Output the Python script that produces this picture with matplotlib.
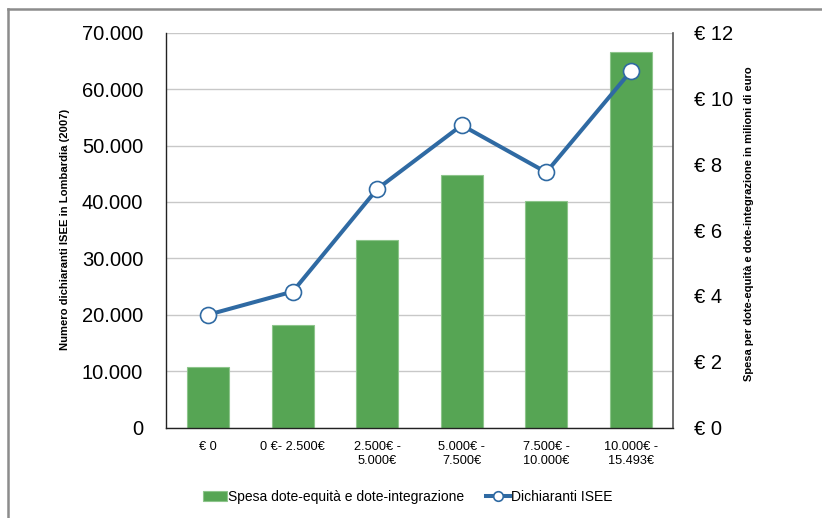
import matplotlib
matplotlib.use("Agg")
import matplotlib.pyplot as plt
from matplotlib.lines import Line2D
from matplotlib.ticker import FixedLocator, FuncFormatter

plt.rcParams['font.family'] = ['Liberation Sans', 'DejaVu Sans']

categories = ["€ 0", "0 €- 2.500€", "2.500€ -\n5.000€", "5.000€ -\n7.500€",
              "7.500€ -\n10.000€", "10.000€ -\n15.493€"]
spesa_milioni = [1.83, 3.12, 5.71, 7.66, 6.89, 11.41]
dichiaranti = [20000, 24100, 42300, 53600, 45250, 63150]

left_ticks = [0, 10000, 20000, 30000, 40000, 50000, 60000, 70000]
right_ticks = [0, 2, 4, 6, 8, 10, 12]

bar_color = "#56a554"
bar_edge = "#8dc58b"
line_color = "#2f6aa3"
grid_color = "#c8c8c8"

fig = plt.figure(figsize=(8.22, 5.18), dpi=100)
ax = fig.add_axes([166 / 822, 1 - 427.5 / 518, (673 - 166) / 822, (427.5 - 32.7) / 518])
ax2 = ax.twinx()

x = list(range(len(categories)))

# bars on the secondary (right) axis
ax2.bar(x, spesa_milioni, width=0.5, color=bar_color, edgecolor=bar_edge,
        linewidth=0.8, zorder=3, label="Spesa dote-equità e dote-integrazione")
ax2.set_ylim(0, 12)
ax2.yaxis.set_major_locator(FixedLocator(right_ticks))
ax2.yaxis.set_major_formatter(FuncFormatter(lambda v, p: f"€ {int(v)}"))
for t in left_ticks:
    ax2.axhline(t / 70000 * 12, color=grid_color, lw=1.0, zorder=1)

# line on the primary (left) axis, drawn above the bars
ax.set_zorder(ax2.get_zorder() + 1)
ax.patch.set_visible(False)
ax.plot(x, dichiaranti, color=line_color, lw=2.9, marker="o", markersize=11.5,
        markerfacecolor="white", markeredgecolor=line_color, markeredgewidth=1.2,
        zorder=4, label="Dichiaranti ISEE")
ax.set_ylim(0, 70000)
ax.set_xlim(-0.5, len(categories) - 0.5)
ax.yaxis.set_major_locator(FixedLocator(left_ticks))
ax.yaxis.set_major_formatter(FuncFormatter(lambda v, p: f"{int(v):,}".replace(",", ".")))
ax.set_xticks(x)
ax.set_xticklabels(categories, fontsize=9.2, linespacing=1.15)

for a in (ax, ax2):
    a.tick_params(axis="both", length=0)
ax.tick_params(axis="y", labelsize=14.5, pad=16.5)
ax2.tick_params(axis="y", labelsize=14.5, pad=15)
ax.tick_params(axis="x", pad=10)

for a in (ax, ax2):
    a.spines["top"].set_visible(False)
ax.spines["left"].set_color("#222222")
ax.spines["bottom"].set_color("#222222")
ax.spines["right"].set_visible(False)
ax2.spines["left"].set_visible(False)
ax2.spines["bottom"].set_visible(False)
ax2.spines["right"].set_color("#555555")
ax.spines["left"].set_linewidth(1.0)
ax.spines["bottom"].set_linewidth(1.0)
ax2.spines["right"].set_linewidth(1.2)

fig.text(65 / 822, 1 - 229.5 / 518, "Numero dichiaranti ISEE in Lombardia (2007)",
         rotation=90, ha="center", va="center", fontsize=8.1, fontweight="bold")
fig.text(749 / 822, 1 - 223.5 / 518, "Spesa per dote-equità e dote-integrazione in milioni di euro",
         rotation=90, ha="center", va="center", fontsize=8.0, fontweight="bold")

h1, l1 = ax2.get_legend_handles_labels()
h2, l2 = ax.get_legend_handles_labels()
leg = fig.legend(h1 + h2, l1 + l2, loc="center", bbox_to_anchor=(408 / 822, 1 - 497 / 518),
                 ncol=2, frameon=False, fontsize=10, handlelength=1.7, handletextpad=0.1,
                 columnspacing=1.6, markerscale=0.6)

# outer frame (top and left edges)
fig.add_artist(Line2D([8 / 822, 8 / 822], [0, 1 - 9 / 518], transform=fig.transFigure,
                      color="#8c8c8c", lw=1.8))
fig.add_artist(Line2D([8 / 822, 1], [1 - 9 / 518, 1 - 9 / 518], transform=fig.transFigure,
                      color="#8c8c8c", lw=1.8))

fig.savefig("out.png", dpi=100, facecolor="white")
